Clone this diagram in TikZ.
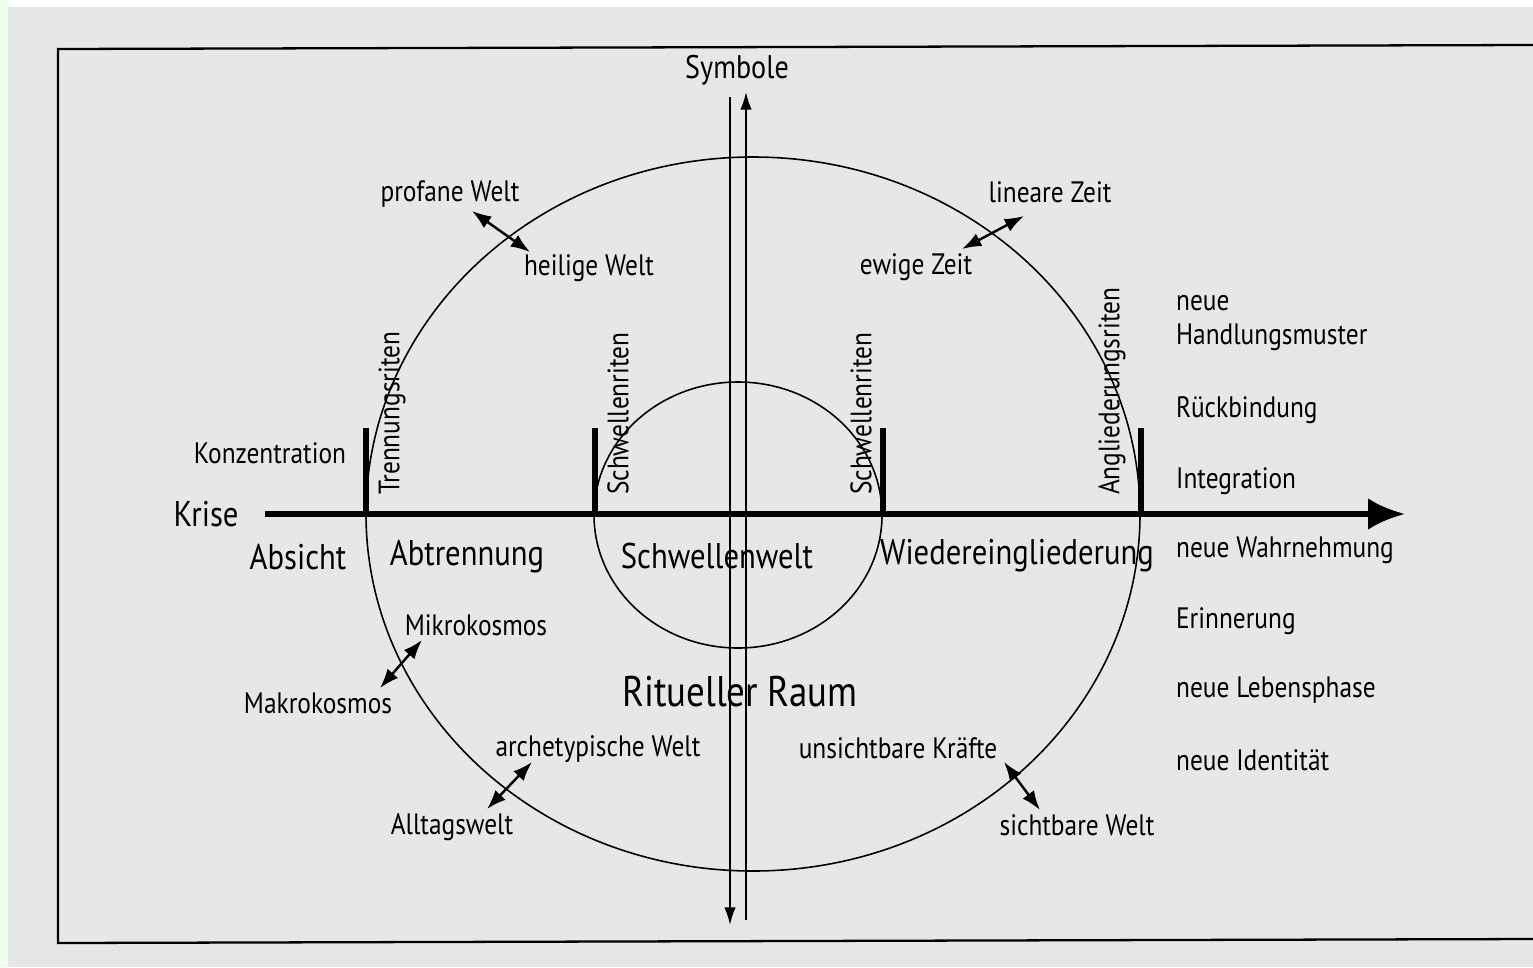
\documentclass[tikz,border=0pt]{standalone}
\usepackage{fontspec}
\setmainfont{PT Sans}[FakeStretch=0.86]
\usepackage{tikz}
\usetikzlibrary{arrows.meta}

\definecolor{paper}{HTML}{E7E7E7}
\definecolor{edge}{HTML}{EEFFEE}

\tikzset{
  lbl/.style={inner sep=1pt, font=\fontsize{16.8}{19.3}\selectfont},
  phase/.style={inner sep=1pt, font=\fontsize{20.3}{23}\selectfont},
  rite/.style={inner sep=1pt, rotate=90, anchor=west, font=\fontsize{16.8}{19}\selectfont},
  tick/.style={line width=3.4pt},
  ring/.style={line width=0.9pt},
  pair/.style={line width=1.4pt, {Latex[length=11pt,width=8pt]}-{Latex[length=11pt,width=8pt]}},
}

\begin{document}
\begin{tikzpicture}[x=0.02cm, y=-0.02cm]
\useasboundingbox (0,0) rectangle (1533,967);
\fill[paper] (0,0) rectangle (1533,967);
\fill[edge] (0,0) rectangle (8,967);
\fill[white] (8,0) rectangle (1533,7);
\draw[line width=1.3pt] (1533,45) -- (58,49) -- (58,943) -- (1533,939);

% the two rings
\coordinate (O) at (753,514);
\coordinate (I) at (738,515);
\draw[ring] (O) ellipse [x radius=387, y radius=357];
\draw[ring] (I) ellipse [x radius=144, y radius=133];

% symbol axis
\node[font=\fontsize{18.6}{21}\selectfont] (sym) at (737,70) {Symbole};
\coordinate (dnTop) at (730,97);
\coordinate (dnBot) at (730,925);
\coordinate (upBot) at (746,920);
\coordinate (upTop) at (746,92);
\draw[line width=1.1pt, -{Latex[length=10pt,width=6.5pt]}] (dnTop) -- (dnBot);
\draw[line width=1.1pt, -{Latex[length=10pt,width=6.5pt]}] (upBot) -- (upTop);

% time line
\node[phase] (krise) at (206,514) {Krise};
\coordinate (axL) at (265,514);
\coordinate (axR) at (1405,514);
\draw[line width=3.4pt, -{Latex[length=21pt,width=18pt]}] (axL) -- (axR);
\foreach \x in {366,595,883,1141}
  \draw[tick] (\x,514) -- (\x,428);

\node[rite] (trenn) at (392,497) {Trennungsriten};
\node[rite] (schw1) at (618,497) {Schwellenriten};
\node[rite] (schw2) at (861,497) {Schwellenriten};
\node[rite] (angl) at (1112,497) {Angliederungsriten};

\node[lbl] (konz) at (270,453) {Konzentration};
\node[phase] (absicht) at (298,557) {Absicht};
\node[phase] (abtr) at (467,557) {Abtrennung};
\node[phase] (schwwelt) at (717,556) {Schwellenwelt};
\node[phase] (wieder) at (1017,556) {Wiedereingliederung};

% opposites
\node[lbl] (profan) at (450,194) {profane Welt};
\node[lbl] (heilig) at (589,268) {heilige Welt};
\coordinate (p1) at (472,211);
\coordinate (p2) at (530,252);
\draw[pair] (p1) -- (p2);

\node[lbl] (linear) at (1050,192) {lineare Zeit};
\node[lbl] (ewig) at (916,267) {ewige Zeit};
\coordinate (z1) at (962,249);
\coordinate (z2) at (1024,216);
\draw[pair] (z1) -- (z2);

\node[lbl] (mikro) at (476,625) {Mikrokosmos};
\node[lbl] (makro) at (318,703) {Makrokosmos};
\coordinate (k1) at (380,688);
\coordinate (k2) at (422,640);
\draw[pair] (k1) -- (k2);

\node[lbl] (arche) at (598,749) {archetypische Welt};
\node[lbl] (alltag) at (452,827) {Alltagswelt};
\coordinate (a1) at (487,809);
\coordinate (a2) at (532,762);
\draw[pair] (a1) -- (a2);

\node[lbl] (unsicht) at (898,748) {unsichtbare Kräfte};
\node[lbl] (sicht) at (1077,825) {sichtbare Welt};
\coordinate (s1) at (1004,762);
\coordinate (s2) at (1040,810);
\draw[pair] (s1) -- (s2);

\node[font=\fontsize{24.4}{28}\selectfont] (raum) at (740,692) {Ritueller Raum};

% outcomes
\node[lbl, anchor=west, align=left] (handl) at (1174,323) {neue\\Handlungsmuster};
\node[lbl, anchor=west] (rueck) at (1174,410) {Rückbindung};
\node[lbl, anchor=west] (integ) at (1174,481) {Integration};
\node[lbl, anchor=west] (wahrn) at (1174,550) {neue Wahrnehmung};
\node[lbl, anchor=west] (erinn) at (1174,621) {Erinnerung};
\node[lbl, anchor=west] (leben) at (1174,690) {neue Lebensphase};
\node[lbl, anchor=west] (ident) at (1174,760) {neue Identität};
\end{tikzpicture}
\end{document}
